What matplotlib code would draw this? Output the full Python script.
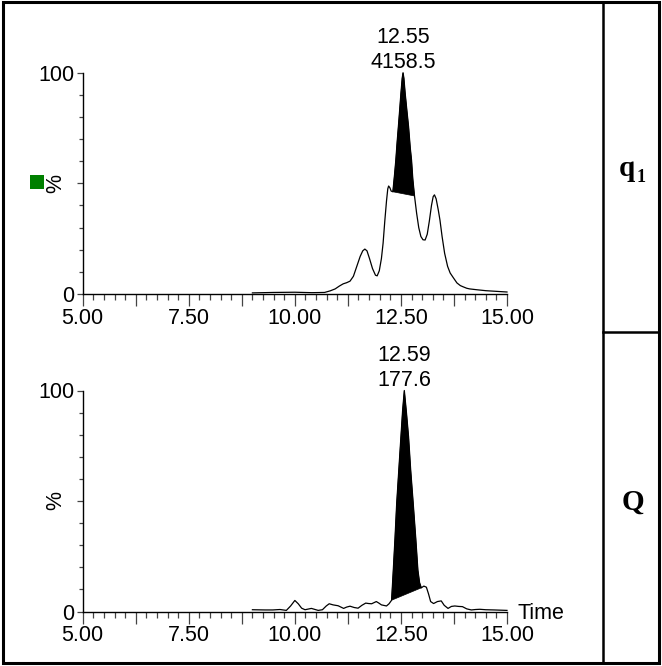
import numpy as np
import matplotlib
matplotlib.use("Agg")
import matplotlib.pyplot as plt
from matplotlib.ticker import MultipleLocator, FixedLocator, FuncFormatter
from matplotlib.lines import Line2D
from matplotlib.patches import Rectangle

plt.rcParams['font.family'] = ['Liberation Sans', 'DejaVu Sans']

# q1 trace (time, %)
t_q1 = [9.00, 9.50, 10.00, 10.40, 10.70, 10.83, 10.95, 11.05, 11.14, 11.22,
        11.30, 11.38, 11.46, 11.54, 11.60, 11.65, 11.70, 11.76, 11.83, 11.90,
        11.94, 11.99, 12.04, 12.08, 12.12, 12.16, 12.19, 12.21, 12.24, 12.27,
        12.31, 12.35, 12.38, 12.41, 12.44, 12.47, 12.50, 12.53, 12.55, 12.57,
        12.60, 12.64, 12.68, 12.72, 12.75, 12.78, 12.82, 12.87, 12.92, 12.97,
        13.02, 13.07, 13.12, 13.17, 13.22, 13.26, 13.29, 13.33, 13.38, 13.42,
        13.47, 13.53, 13.60, 13.66, 13.73, 13.82, 13.90, 13.96, 14.05, 14.12,
        14.30, 14.50, 14.75, 15.00]
v_q1 = [0.5, 0.7, 0.8, 0.6, 0.7, 1.4, 2.3, 3.6, 4.6, 5.1,
        5.8, 8.0, 12.5, 17.0, 19.5, 20.3, 19.5, 16.0, 11.5, 8.5,
        8.2, 10.5, 16.0, 23.0, 33.0, 42.0, 47.5, 48.8, 48.0, 46.5,
        46.2, 54.0, 60.5, 68.5, 75.6, 83.0, 90.7, 97.5, 100.0, 97.5,
        90.7, 83.0, 75.6, 66.0, 60.5, 52.0, 44.3, 36.5, 30.0, 26.0,
        24.5, 24.4, 27.0, 33.0, 40.0, 44.0, 44.8, 43.0, 38.0, 33.4,
        26.0, 18.4, 12.5, 9.5, 7.5, 5.0, 3.8, 3.3, 2.6, 2.3,
        1.9, 1.5, 1.2, 0.9]
q1_peak = (12.31, 12.82)   # integration start / end
q1_rt, q1_area = "12.55", "4158.5"

# Q trace (time, %)
t_Q = [9.00, 9.30, 9.48, 9.65, 9.80, 9.90, 10.00, 10.08, 10.16, 10.24,
       10.39, 10.55, 10.65, 10.74, 10.81, 10.90, 11.02, 11.15, 11.22, 11.30,
       11.40, 11.49, 11.58, 11.67, 11.74, 11.81, 11.92, 11.98, 12.04, 12.16,
       12.22, 12.28, 12.32, 12.36, 12.40, 12.45, 12.50, 12.54, 12.58, 12.63,
       12.68, 12.73, 12.79, 12.85, 12.90, 12.94, 12.98, 13.04, 13.10, 13.15,
       13.20, 13.27, 13.36, 13.45, 13.52, 13.61, 13.69, 13.77, 13.86, 13.95,
       14.05, 14.16, 14.26, 14.36, 14.50, 14.70, 15.00]
v_Q = [0.8, 0.7, 0.7, 0.9, 0.5, 2.5, 5.0, 3.5, 1.5, 0.8,
       1.4, 0.5, 0.8, 2.5, 3.5, 3.0, 2.6, 1.4, 2.0, 2.4,
       1.8, 1.5, 2.8, 3.8, 3.6, 3.5, 4.5, 3.8, 3.0, 2.5,
       3.5, 5.1, 18.7, 33.0, 48.8, 64.0, 79.0, 91.0, 100.0, 90.0,
       79.0, 64.0, 48.8, 33.0, 18.7, 13.0, 10.7, 11.5, 11.0, 8.0,
       4.5, 3.6, 4.5, 4.8, 2.8, 1.4, 2.3, 2.5, 2.3, 2.2,
       1.2, 0.7, 0.9, 1.0, 0.8, 0.7, 0.5]
Q_peak = (12.28, 12.98)
Q_rt, Q_area = "12.59", "177.6"

W, H = 662, 666
fig = plt.figure(figsize=(W / 100, H / 100), dpi=100)


def fx(px):
    return px / W


def fy(py):
    return 1 - py / H


def draw_panel(ax, t, v, peak, rt, area):
    t = np.array(t)
    v = np.array(v)
    ax.plot(t, v, color='black', lw=0.9, clip_on=False)
    sel = (t >= peak[0]) & (t <= peak[1])
    ax.fill(t[sel], v[sel], color='black', lw=0.5)
    ax.set_xlim(5, 15)
    ax.set_ylim(0, 100)
    for s in ['top', 'right']:
        ax.spines[s].set_visible(False)
    for s in ['left', 'bottom']:
        ax.spines[s].set_linewidth(1.0)
        ax.spines[s].set_color('black')
    ax.xaxis.set_major_locator(MultipleLocator(1.25))
    ax.xaxis.set_minor_locator(MultipleLocator(0.25))
    ax.xaxis.set_major_formatter(FuncFormatter(
        lambda x, p: f"{x:.2f}" if abs(x / 2.5 - round(x / 2.5)) < 1e-6 else ""))
    ax.yaxis.set_major_locator(FixedLocator([0, 50, 100]))
    ax.yaxis.set_major_formatter(FuncFormatter(
        lambda y, p: "" if y == 50 else f"{y:.0f}"))
    ax.yaxis.set_minor_locator(MultipleLocator(10))
    ax.tick_params(axis='x', which='major', length=8.5, width=0.9,
                   color='#444444', labelsize=15.5, pad=1.5)
    ax.tick_params(axis='x', which='minor', length=4.3, width=0.9,
                   color='#444444')
    ax.tick_params(axis='y', which='major', length=4.5, width=0.9,
                   color='#444444', labelsize=15.5, pad=1.5)
    ax.tick_params(axis='y', which='minor', length=2.9, width=0.9,
                   color='#444444')
    ip = int(np.argmax(v))
    ax.annotate(f"{rt}\n{area}", xy=(t[ip], v[ip]), xytext=(0, 0),
                textcoords='offset points', ha='center', va='bottom',
                fontsize=15.5, linespacing=1.2, annotation_clip=False)
    ax.text(-0.064, 0.5, "%", transform=ax.transAxes, rotation=90,
            ha='center', va='center', fontsize=15.5)


ax1 = fig.add_axes([fx(82.7), fy(294), fx(507 - 82.7), (294 - 72.7) / H])
draw_panel(ax1, t_q1, v_q1, q1_peak, q1_rt, q1_area)
ax2 = fig.add_axes([fx(82.7), fy(611.5), fx(507 - 82.7), (611.5 - 390.5) / H])
draw_panel(ax2, t_Q, v_Q, Q_peak, Q_rt, Q_area)
ax2.text(1.025, -0.035, "Time", transform=ax2.transAxes,
         ha='left', va='baseline', fontsize=15.5)

# green marker next to the top % label
fig.add_artist(Rectangle((fx(30), fy(189)), 14 / W, 14 / H,
                         transform=fig.transFigure, color='#008000', lw=0))

# frame and right-hand cells
fig.add_artist(Rectangle((fx(2.5), fy(662.5)), (659 - 2.5) / W, (662.5 - 1.5) / H,
                         transform=fig.transFigure, fill=False,
                         edgecolor='black', lw=2.2))
fig.add_artist(Line2D([fx(602.7), fx(602.7)], [fy(1.5), fy(662.5)],
                      transform=fig.transFigure, color='black', lw=1.8))
fig.add_artist(Line2D([fx(602.7), fx(659)], [fy(331.5), fy(331.5)],
                      transform=fig.transFigure, color='black', lw=1.8))

serif = ['Liberation Serif', 'DejaVu Serif']
fig.text(fx(626.5), fy(176), "q", family=serif, weight='bold', fontsize=21,
         ha='center', va='baseline')
fig.text(fx(637), fy(182), "1", family=serif, weight='bold', fontsize=13,
         ha='left', va='baseline')
fig.text(fx(632.5), fy(510), "Q", family=serif, weight='bold', fontsize=21,
         ha='center', va='baseline')

fig.savefig("out.png", dpi=100)
